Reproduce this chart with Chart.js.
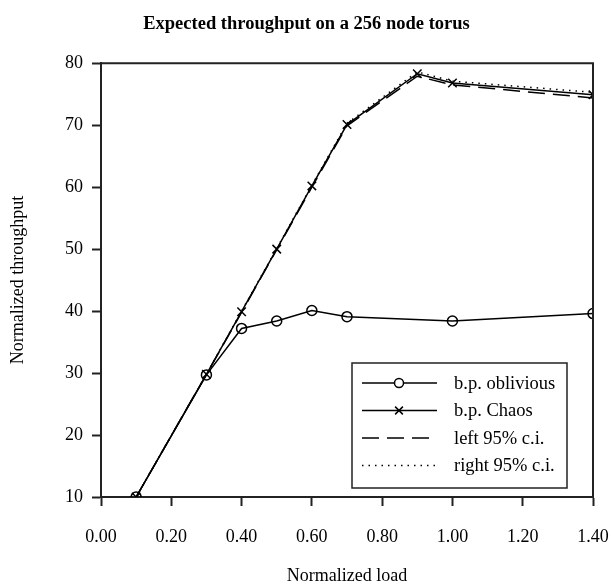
<!DOCTYPE html>
<html>
<head>
<meta charset="utf-8">
<script src="https://cdn.jsdelivr.net/npm/chart.js@4/dist/chart.umd.min.js"></script>
<style>
  html, body { margin: 0; padding: 0; background: #fff; }
  #wrap { width: 613px; height: 585px; }
</style>
</head>
<body>
<div id="wrap"><canvas id="grafico" width="613" height="585"></canvas></div>
<script>
// Carga normalizada (eje x)
const cargaOblivious = [0.1, 0.3, 0.4, 0.5, 0.6, 0.7, 1.0, 1.4];
const cargaChaos = [0.1, 0.3, 0.4, 0.5, 0.6, 0.7, 0.9, 1.0, 1.4];

// Throughput normalizado
const thrOblivious = [10, 29.7, 37.2, 38.4, 40.1, 39.1, 38.4, 39.6];
const thrChaos = [10, 29.8, 39.9, 50.0, 60.2, 70.1, 78.3, 76.8, 74.9];
const ciIzquierdo = [10, 29.8, 39.8, 49.9, 60.0, 69.9, 77.9, 76.5, 74.4];
const ciDerecho = [10, 29.8, 40.0, 50.1, 60.3, 70.3, 78.6, 77.1, 75.3];

const etiquetas = ['b.p. oblivious', 'b.p. Chaos', 'left 95% c.i.', 'right 95% c.i.'];

const serif = "'Liberation Serif', 'Times New Roman', serif";

function puntos(xs, ys) {
    return xs.map((x, i) => ({ x: x, y: ys[i] }));
}

// Marco completo alrededor del área de trazado
const marco = {
    id: 'marco',
    afterDatasetsDraw(chart) {
        const { ctx, chartArea: a } = chart;
        ctx.save();
        ctx.strokeStyle = '#222';
        ctx.lineWidth = 2;
        ctx.beginPath();
        ctx.moveTo(a.left, a.top);
        ctx.lineTo(a.right, a.top);
        ctx.lineTo(a.right, a.bottom);
        ctx.stroke();
        ctx.restore();
    }
};

// Leyenda dentro del gráfico, abajo a la derecha
const leyenda = {
    id: 'leyenda',
    afterDraw(chart) {
        const ctx = chart.ctx;
        const x0 = 352, y0 = 363, w = 215, h = 125;
        ctx.save();
        ctx.fillStyle = '#fff';
        ctx.fillRect(x0, y0, w, h);
        ctx.strokeStyle = '#222';
        ctx.lineWidth = 1.5;
        ctx.strokeRect(x0, y0, w, h);

        chart.data.datasets.forEach((ds, i) => {
            const y = 383 + i * 27.5;
            ctx.strokeStyle = '#000';
            ctx.lineWidth = ds.borderWidth;
            ctx.setLineDash(ds.borderDash || []);
            ctx.beginPath();
            ctx.moveTo(362, y);
            ctx.lineTo(437, y);
            ctx.stroke();
            ctx.setLineDash([]);
            if (ds.pointRadius > 0) {
                Chart.helpers.drawPoint(ctx, {
                    pointStyle: ds.pointStyle,
                    radius: ds.pointRadius - 0.5,
                    borderWidth: 1.5
                }, 399, y);
            }
            ctx.fillStyle = '#000';
            ctx.font = '18.5px ' + serif;
            ctx.textBaseline = 'middle';
            ctx.fillText(ds.label, 454, y + 1);
        });
        ctx.restore();
    }
};

new Chart(document.getElementById('grafico'), {
    type: 'line',
    data: {
        datasets: [
            {
                label: etiquetas[0],
                data: puntos(cargaOblivious, thrOblivious),
                borderColor: '#000',
                borderWidth: 1.5,
                pointStyle: 'circle',
                pointRadius: 5,
                pointBorderWidth: 1.5,
                pointBackgroundColor: 'rgba(0,0,0,0)',
                pointBorderColor: '#000'
            },
            {
                label: etiquetas[1],
                data: puntos(cargaChaos, thrChaos),
                borderColor: '#000',
                borderWidth: 1.5,
                pointStyle: 'crossRot',
                pointRadius: 6,
                pointBorderWidth: 1.5,
                pointBorderColor: '#000'
            },
            {
                label: etiquetas[2],
                data: puntos(cargaChaos, ciIzquierdo),
                borderColor: '#000',
                borderWidth: 1.5,
                borderDash: [17, 8],
                pointRadius: 0
            },
            {
                label: etiquetas[3],
                data: puntos(cargaChaos, ciDerecho),
                borderColor: '#000',
                borderWidth: 1.5,
                borderDash: [1.5, 5],
                pointRadius: 0
            }
        ]
    },
    options: {
        responsive: false,
        animation: false,
        layout: { padding: 0 },
        plugins: {
            legend: { display: false },
            tooltip: { enabled: false },
            title: {
                display: true,
                text: 'Expected throughput on a 256 node torus',
                color: '#000',
                font: { family: serif, size: 18.5, weight: 'bold', lineHeight: 1.2 },
                padding: { top: 13, bottom: 28 }
            }
        },
        scales: {
            x: {
                type: 'linear',
                min: 0,
                max: 1.4,
                afterFit(scale) {
                    // deja sitio a la derecha para la etiqueta 1.40
                    scale.height = 88;
                    scale.paddingLeft = 0;
                    scale.paddingRight = 20;
                },
                border: { display: true, color: '#222', width: 2 },
                grid: { drawOnChartArea: false, tickLength: 9, tickColor: '#222', tickWidth: 2 },
                ticks: {
                    stepSize: 0.2,
                    color: '#000',
                    padding: 20,
                    maxRotation: 0,
                    font: { family: serif, size: 18 },
                    callback: v => v.toFixed(2)
                },
                title: {
                    display: true,
                    text: 'Normalized load',
                    color: '#000',
                    font: { family: serif, size: 18, lineHeight: 1 },
                    padding: { top: 0, bottom: 0 }
                }
            },
            y: {
                min: 10,
                max: 80,
                afterFit(scale) {
                    scale.width = 101;
                    scale.paddingTop = 0;
                    scale.paddingBottom = 0;
                },
                border: { display: true, color: '#222', width: 2 },
                grid: { drawOnChartArea: false, tickLength: 9, tickColor: '#222', tickWidth: 2 },
                ticks: {
                    stepSize: 10,
                    color: '#000',
                    padding: 9,
                    font: { family: serif, size: 18 }
                },
                title: {
                    display: true,
                    text: 'Normalized throughput',
                    color: '#000',
                    font: { family: serif, size: 18, lineHeight: 1.2 },
                    padding: { top: 7, bottom: 0 }
                }
            }
        }
    },
    plugins: [marco, leyenda]
});
</script>
</body>
</html>
